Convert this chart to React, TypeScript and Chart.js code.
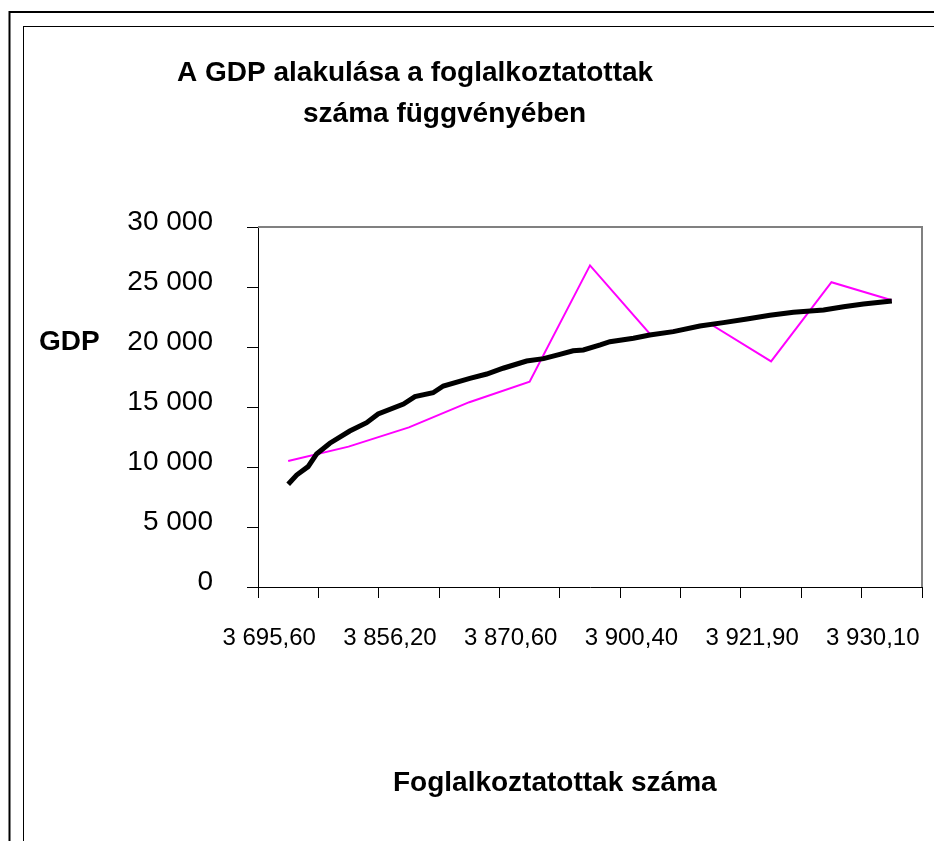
import React, { useEffect, useRef } from 'react';
import { Chart, registerables } from 'chart.js';

Chart.register(...registerables);

// ---- data ----
const categories = ['3 695,60', '', '3 856,20', '', '3 870,60', '', '3 900,40', '', '3 921,90', '', '3 930,10'];
const gdpValues = [10500, 11700, 13300, 15400, 17100, 26800, 21050, 21900, 18800, 25400, 23900];
// trend line (category index position, value)
const trendX = [0, 0.14, 0.33, 0.47, 0.69, 1.02, 1.3, 1.49, 1.91, 2.1, 2.4, 2.57, 3.01, 3.29, 3.56, 3.95, 4.23, 4.5, 4.72, 4.89, 5.17, 5.33, 5.72, 5.99, 6.38, 6.82, 7.21, 7.6, 7.98, 8.37, 8.87, 9.2, 9.53, 10];
const trendY = [8560, 9330, 10030, 11080, 11980, 13000, 13690, 14420, 15250, 15860, 16190, 16750, 17390, 17750, 18230, 18830, 19030, 19390, 19690, 19750, 20170, 20440, 20730, 21000, 21280, 21750, 22030, 22330, 22640, 22890, 23080, 23360, 23580, 23830];
const yMin = 0;
const yMax = 30000;
const yStep = 5000;
const titleLines = ['A GDP alakulása a foglalkoztatottak', 'száma függvényében'];
const yAxisTitle = 'GDP';
const xAxisTitle = 'Foglalkoztatottak száma';

const FONT = '"Liberation Sans", Arial, sans-serif';

const fmt = (v: number) => String(v).replace(/\B(?=(\d{3})+(?!\d))/g, ' ');

const decorPlugin = {
  id: 'decor',
  afterDraw(chart: any) {
    const ctx = chart.ctx;
    const ca = chart.chartArea;
    ctx.save();
    // outer double frame
    ctx.strokeStyle = '#000';
    ctx.lineWidth = 2;
    ctx.strokeRect(9.5, 12, 2000, 2000);
    ctx.lineWidth = 1;
    ctx.strokeRect(23.5, 26.5, 2000, 2000);
    // plot area gray top/right border
    ctx.strokeStyle = '#808080';
    ctx.lineWidth = 2;
    ctx.beginPath();
    ctx.moveTo(ca.left, ca.top);
    ctx.lineTo(ca.right, ca.top);
    ctx.lineTo(ca.right, ca.bottom);
    ctx.stroke();
    // texts
    ctx.fillStyle = '#000';
    ctx.textBaseline = 'alphabetic';
    ctx.textAlign = 'left';
    ctx.font = 'bold 28px ' + FONT;
    ctx.fillText(titleLines[0], 177, 81);
    ctx.fillText(titleLines[1], 303, 122);
    ctx.fillText(yAxisTitle, 39, 350);
    ctx.fillText(xAxisTitle, 393, 791);
    ctx.restore();
  },
};

export default function App() {
  const ref = useRef<HTMLCanvasElement | null>(null);
  useEffect(() => {
    if (!ref.current) return;
    const chart = new Chart(ref.current, {
      type: 'line',
      data: {
        labels: categories,
        datasets: [
          {
            label: 'trend',
            data: trendX.map((x, i) => ({ x, y: trendY[i] })),
            xAxisID: 'xt',
            borderColor: '#000',
            borderWidth: 5,
            pointRadius: 0,
            tension: 0,
            fill: false,
            order: 0,
          },
          {
            label: 'GDP',
            data: gdpValues,
            xAxisID: 'x',
            borderColor: '#FF00FF',
            borderWidth: 2,
            pointRadius: 0,
            tension: 0,
            fill: false,
            order: 1,
          },
        ],
      },
      options: {
        responsive: false,
        animation: false,
        layout: { padding: { left: 0, top: 227, right: 12, bottom: 0 } },
        plugins: { legend: { display: false }, title: { display: false }, tooltip: { enabled: false } },
        scales: {
          x: {
            type: 'category',
            offset: true,
            grid: { offset: true, drawOnChartArea: false, drawTicks: true, tickLength: 11, color: '#000' },
            border: { color: '#000', width: 1 },
            ticks: {
              autoSkip: false,
              maxRotation: 0,
              minRotation: 0,
              color: '#000',
              font: { family: FONT, size: 24 },
              padding: 26,
              labelOffset: -19,
            },
            afterFit: (s: any) => {
              s.height = 254;
              s.paddingLeft = 0;
              s.paddingRight = 0;
            },
          },
          xt: {
            type: 'linear',
            display: false,
            min: -0.5,
            max: 10.5,
          },
          y: {
            type: 'linear',
            min: yMin,
            max: yMax,
            ticks: {
              stepSize: yStep,
              color: '#000',
              font: { family: FONT, size: 28 },
              padding: 34,
              labelOffset: -5,
              callback: (v: any) => fmt(Number(v)),
            },
            grid: { drawOnChartArea: false, drawTicks: true, tickLength: 11, color: '#000' },
            border: { color: '#000', width: 1 },
            afterFit: (s: any) => {
              s.width = 258;
              s.paddingTop = 0;
              s.paddingBottom = 0;
            },
          },
        },
      },
      plugins: [decorPlugin],
    });
    return () => chart.destroy();
  }, []);
  return (
    <div style={{ position: 'fixed', left: 0, top: 0, width: 934, height: 841, background: '#fff' }}>
      <canvas ref={ref} width={934} height={841} style={{ width: 934, height: 841, display: 'block' }} />
    </div>
  );
}
